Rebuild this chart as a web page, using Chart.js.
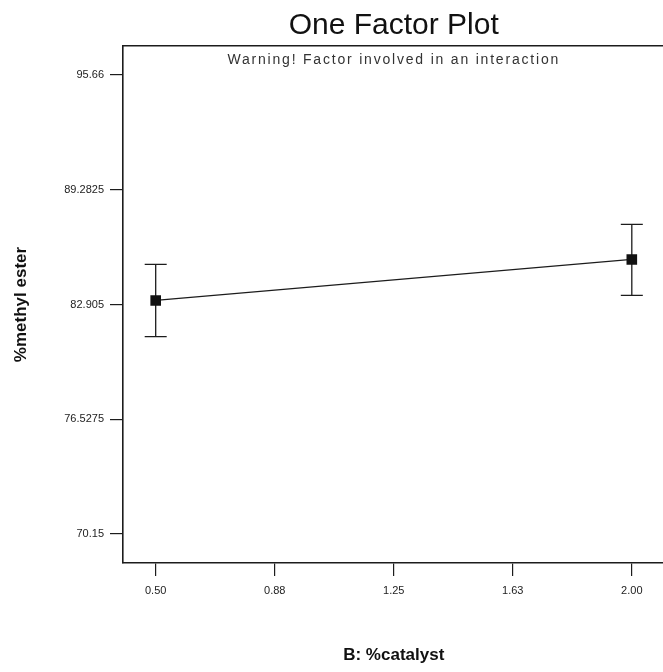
<!DOCTYPE html>
<html>
<head>
<meta charset="utf-8">
<script src="https://cdn.jsdelivr.net/npm/chart.js@4.4.1/dist/chart.umd.min.js"></script>
<style>
  html, body { margin:0; padding:0; background:#fff; overflow:hidden; }
  #wrap { width:663px; height:672px; overflow:hidden; }
  canvas { display:block; }
</style>
</head>
<body>
<div id="wrap"><canvas id="c" width="672" height="672"></canvas></div>
<script>
// factor levels and predicted response with its interval
const xValues = [0.5, 2.0]
const yMeans  = [83.13, 85.41]
const yLower  = [81.12, 83.41]
const yUpper  = [85.13, 87.36]

const xTicks      = [0.5, 0.875, 1.25, 1.625, 2.0]
const xTickLabels = ['0.50', '0.88', '1.25', '1.63', '2.00']
const yTicks      = [70.15, 76.5275, 82.905, 89.2825, 95.66]
const yTickLabels = ['70.15', '76.5275', '82.905', '89.2825', '95.66']

const ink = '#1c1c1c'
const FONT = '"Liberation Sans", Arial, sans-serif'

const labelFor = (vals, labels) => v => {
  const i = vals.findIndex(t => Math.abs(t - v) < 1e-6)
  return i >= 0 ? labels[i] : ''
}

const errorBars = {
  id: 'errorBars',
  beforeDatasetsDraw(chart) {
    const { ctx, scales: { x, y } } = chart
    ctx.save()
    ctx.strokeStyle = ink
    ctx.lineWidth = 1.3
    xValues.forEach((xv, i) => {
      const px = x.getPixelForValue(xv)
      const lo = y.getPixelForValue(yLower[i])
      const hi = y.getPixelForValue(yUpper[i])
      ctx.beginPath()
      ctx.moveTo(px, lo); ctx.lineTo(px, hi)
      ctx.moveTo(px - 11, lo); ctx.lineTo(px + 11, lo)
      ctx.moveTo(px - 11, hi); ctx.lineTo(px + 11, hi)
      ctx.stroke()
    })
    ctx.restore()
  }
}

const warning = {
  id: 'warning',
  afterDraw(chart) {
    const { ctx, chartArea } = chart
    ctx.save()
    ctx.font = '14px ' + FONT
    ctx.fillStyle = '#333'
    ctx.textAlign = 'center'
    ctx.textBaseline = 'middle'
    if ('letterSpacing' in ctx) ctx.letterSpacing = '1.8px'
    ctx.fillText('Warning! Factor involved in an interaction', (chartArea.left + chartArea.right) / 2, chartArea.top + 14)
    ctx.restore()
  }
}

new Chart(document.getElementById('c'), {
  type: 'scatter',
  data: {
    datasets: [{
      data: xValues.map((x, i) => ({ x, y: yMeans[i] })),
      showLine: true,
      borderColor: ink,
      borderWidth: 1.3,
      pointStyle: 'rect',
      pointRadius: 7.5,
      pointHoverRadius: 7.5,
      pointBackgroundColor: '#111',
      pointBorderColor: '#111',
      pointBorderWidth: 0
    }]
  },
  options: {
    responsive: false,
    animation: false,
    layout: { padding: { left: 0, top: 0, right: 1, bottom: 0 } },
    plugins: { legend: { display: false }, tooltip: { enabled: false } },
    scales: {
      x: {
        type: 'linear', position: 'bottom', min: 0.397, max: 2.103, bounds: 'data',
        afterBuildTicks: s => { s.ticks = xTicks.map(v => ({ value: v })) },
        afterFit: s => { s.height = 109 },
        ticks: { callback: labelFor(xTicks, xTickLabels), autoSkip: false, maxRotation: 0,
                 color: '#222', padding: 8, font: { family: FONT, size: 11 } },
        grid: { drawOnChartArea: false, drawTicks: true, tickLength: 13, color: ink, lineWidth: 1.2 },
        border: { display: true, color: ink, width: 1.6 },
        title: { display: true, text: 'B: %catalyst', color: '#111',
                 font: { family: FONT, size: 17, weight: 'bold' }, padding: { top: 0, bottom: 6 } }
      },
      top: {
        type: 'linear', position: 'top', min: 0.397, max: 2.103,
        afterFit: s => { s.height = 46 },
        ticks: { display: false },
        grid: { display: false },
        border: { display: true, color: ink, width: 1.6 },
        title: { display: true, text: 'One Factor Plot', color: '#111',
                 font: { family: FONT, size: 30 }, padding: { top: 8, bottom: 0 } }
      },
      y: {
        type: 'linear', position: 'left', min: 68.535, max: 97.275, bounds: 'data',
        afterBuildTicks: s => { s.ticks = yTicks.map(v => ({ value: v })) },
        afterFit: s => { s.width = 123 },
        ticks: { callback: labelFor(yTicks, yTickLabels), autoSkip: false,
                 color: '#222', padding: 6, font: { family: FONT, size: 11 } },
        grid: { drawOnChartArea: false, drawTicks: true, tickLength: 13, color: ink, lineWidth: 1.2 },
        border: { display: true, color: ink, width: 1.6 },
        title: { display: true, text: '%methyl ester', color: '#111',
                 font: { family: FONT, size: 17, weight: 'bold' }, padding: { top: 11, bottom: 0 } }
      }
    }
  },
  plugins: [errorBars, warning]
})
</script>
</body>
</html>
